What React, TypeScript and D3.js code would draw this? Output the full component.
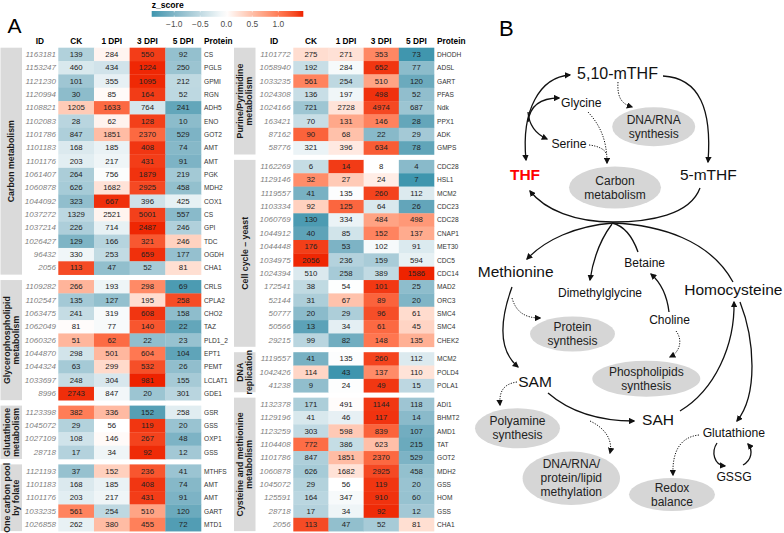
import * as d3 from "d3";

// ---- heatmap data ----
const cols = ["CK", "1 DPI", "3 DPI", "5 DPI"];

const carbonIds = ["1163181", "1153247", "1121230", "1120994", "1108821", "1102083", "1101786", "1101183", "1101176", "1061407", "1060878", "1044092", "1037272", "1037214", "1026427", "96432", "2056"];
const carbonProteins = ["CS", "PGLS", "GPMI", "RGN", "ADH5", "ENO", "GOT2", "AMT", "AMT", "PGK", "MDH2", "COX1", "CS", "GPI", "TDC", "OGDH", "CHA1"];
const carbonValues = [
  [139, 284, 550, 92], [460, 434, 1224, 250], [101, 355, 1095, 212], [30, 85, 164, 52],
  [1205, 1633, 764, 241], [28, 62, 128, 10], [847, 1851, 2370, 529], [168, 185, 408, 74],
  [203, 217, 431, 91], [264, 756, 1879, 219], [626, 1682, 2925, 458], [323, 667, 396, 425],
  [1329, 2521, 5001, 557], [226, 714, 2487, 246], [129, 166, 321, 246], [330, 253, 659, 177],
  [113, 47, 52, 81],
];

const glyIds = ["1109282", "1102547", "1063475", "1062049", "1060326", "1044870", "1044324", "1033697", "8996"];
const glyProteins = ["CRLS", "CPLA2", "CHO2", "TAZ", "PLD1_2", "EPT1", "PEMT", "LCLAT1", "GDE1"];
const glyValues = [
  [266, 193, 298, 69], [135, 127, 195, 258], [241, 319, 608, 158], [81, 77, 140, 22],
  [51, 62, 22, 23], [298, 501, 604, 104], [63, 299, 532, 26], [248, 304, 981, 155],
  [2743, 847, 20, 301],
];

const gshIds = ["1123398", "1045072", "1027109", "28718"];
const gshProteins = ["GSR", "GSS", "OXP1", "GSS"];
const gshValues = [[382, 336, 152, 258], [29, 56, 119, 20], [108, 146, 267, 48], [17, 34, 92, 12]];

const folateIds = ["1121193", "1101183", "1101176", "1033235", "1026858"];
const folateProteins = ["MTHFS", "AMT", "AMT", "GART", "MTD1"];
const folateValues = [[37, 152, 236, 41], [168, 185, 408, 74], [203, 217, 431, 91], [561, 254, 510, 120], [262, 380, 455, 72]];

const purIds = ["1101772", "1058940", "1033235", "1024308", "1024166", "163421", "87162", "58776"];
const purProteins = ["DHODH", "ADSL", "GART", "PFAS", "Ndk", "PPX1", "ADK", "GMPS"];
const purValues = [
  [275, 271, 353, 73], [192, 284, 652, 77], [561, 254, 510, 120], [136, 197, 498, 52],
  [721, 2728, 4974, 687], [70, 131, 146, 28], [90, 68, 22, 29], [321, 396, 634, 78],
];

const cellIds = ["1162269", "1129146", "1119557", "1103334", "1060769", "1044912", "1044448", "1034975", "1024394", "172541", "52144", "50777", "50566", "29215"];
const cellProteins = ["CDC28", "HSL1", "MCM2", "CDC23", "CDC28", "CNAP1", "MET30", "CDC5", "CDC14", "MAD2", "ORC3", "SMC4", "SMC4", "CHEK2"];
const cellValues = [
  [6, 14, 8, 4], [32, 27, 24, 7], [41, 135, 260, 112], [92, 125, 64, 26], [130, 334, 484, 498],
  [40, 85, 152, 137], [176, 53, 102, 91], [2056, 236, 159, 594], [510, 258, 389, 1586],
  [38, 54, 101, 25], [31, 67, 89, 20], [20, 29, 96, 61], [13, 34, 61, 45], [99, 82, 148, 135],
];

const dnaIds = ["1119557", "1042426", "41238"];
const dnaProteins = ["MCM2", "POLD4", "POLA1"];
const dnaValues = [[41, 135, 260, 112], [114, 43, 137, 110], [9, 24, 49, 15]];

const cysIds = ["1132378", "1129196", "1123259", "1104408", "1101786", "1060878", "1045072", "125591", "28718", "2056"];
const cysProteins = ["ADI1", "BHMT2", "AMD1", "TAT", "GOT2", "MDH2", "GSS", "HOM", "GSS", "CHA1"];
const cysValues = [
  [171, 491, 1144, 118], [41, 46, 117, 14], [303, 598, 839, 107], [772, 386, 623, 215],
  [847, 1851, 2370, 529], [626, 1682, 2925, 458], [29, 56, 119, 20], [164, 347, 910, 60],
  [17, 34, 92, 12], [113, 47, 52, 81],
];

const legendTicks = [-1, -0.5, 0, 0.5, 1];

type Group = { label: string[]; ids: string[]; proteins: string[]; values: number[][] };

const leftGroups: Group[] = [
  { label: ["Carbon metabolism"], ids: carbonIds, proteins: carbonProteins, values: carbonValues },
  { label: ["Glycerophospholipid", "metabolism"], ids: glyIds, proteins: glyProteins, values: glyValues },
  { label: ["Glutathione", "metabolism"], ids: gshIds, proteins: gshProteins, values: gshValues },
  { label: ["One carbon pool", "by folate"], ids: folateIds, proteins: folateProteins, values: folateValues },
];
const rightGroups: Group[] = [
  { label: ["Purine/Pyrimidine", "metabolism"], ids: purIds, proteins: purProteins, values: purValues },
  { label: ["Cell cycle \u2013 yeast"], ids: cellIds, proteins: cellProteins, values: cellValues },
  { label: ["DNA", "replication"], ids: dnaIds, proteins: dnaProteins, values: dnaValues },
  { label: ["Cysteine and methionine", "metabolism"], ids: cysIds, proteins: cysProteins, values: cysValues },
];

// row z-score
const zrow = (v: number[]) => {
  const m = d3.mean(v)!;
  const s = d3.deviation(v)!;
  return v.map((x) => (x - m) / s);
};

const allZ = [...leftGroups, ...rightGroups].flatMap((g) => g.values.flatMap(zrow));
const zMin = d3.min(allZ)!;
const zMax = d3.max(allZ)!;
const zAbs = Math.max(-zMin, zMax);
const color = d3
  .scaleLinear<string>()
  .domain([-zAbs, 0, zAbs])
  .range(["#3592ab", "#ffffff", "#ee2200"])
  .interpolate(d3.interpolateLab);

const ROW_H = 13.35;
const GAP = 5.4;
const TOP = 47.7;
const FONT = "'Liberation Sans', Arial, sans-serif";

function Heatmap({ groups, stripX, idRight, x0, x1, protX }: { groups: Group[]; stripX: number; idRight: number; x0: number; x1: number; protX: number }) {
  const x = d3.scaleBand().domain(cols).range([x0, x1]);
  let yy = TOP;
  const tops = groups.map((g) => {
    const t = yy;
    yy += g.values.length * ROW_H + GAP;
    return t;
  });
  return (
    <g>
      <text x={(stripX + 22 + x0) / 2 - 0.5} y={44.3} textAnchor="middle" fontWeight="bold" fontSize={8.3}>ID</text>
      {cols.map((c) => (
        <text key={c} x={x(c)! + x.bandwidth() / 2} y={44.3} textAnchor="middle" fontWeight="bold" fontSize={8.3}>{c}</text>
      ))}
      <text x={protX} y={44.3} fontWeight="bold" fontSize={8.3}>Protein</text>
      {groups.map((g, gi) => {
        const y = d3.scaleBand().domain(d3.range(g.values.length).map(String)).range([tops[gi], tops[gi] + g.values.length * ROW_H]);
        const h = g.values.length * ROW_H;
        const cy = tops[gi] + h / 2;
        const cx = stripX + 10.75;
        const n = g.label.length;
        return (
          <g key={gi}>
            <rect x={stripX} y={tops[gi]} width={21.5} height={h} fill="#dadada" />
            <text transform={`translate(${cx},${cy}) rotate(-90)`} textAnchor="middle" fontWeight="bold" fontSize={8.8} fill="#1a1a1a">
              {g.label.map((l, li) => (
                <tspan key={li} x={0} y={(li - (n - 1) / 2) * 8.8} dominantBaseline="central">{l}</tspan>
              ))}
            </text>
            {g.values.map((row, ri) => {
              const z = zrow(row);
              const ry = y(String(ri))!;
              return (
                <g key={ri}>
                  <text x={idRight} y={ry + ROW_H / 2} dominantBaseline="central" textAnchor="end" fontStyle="italic" fontSize={8} fill="#7f7f7f">{g.ids[ri]}</text>
                  {row.map((v, ci) => (
                    <g key={ci}>
                      <rect x={x(cols[ci])!} y={ry} width={x.bandwidth() + 0.3} height={ROW_H + 0.3} fill={color(z[ci])} />
                      <text x={x(cols[ci])! + x.bandwidth() / 2} y={ry + ROW_H / 2} dominantBaseline="central" textAnchor="middle" fontSize={7.8} fill="#222">{v}</text>
                    </g>
                  ))}
                  <text x={protX} y={ry + ROW_H / 2} dominantBaseline="central" fontSize={6.6} fill="#333">{g.proteins[ri]}</text>
                </g>
              );
            })}
          </g>
        );
      })}
    </g>
  );
}

function Legend() {
  const lx = d3.scaleLinear().domain([zMin, zMax]).range([151.7, 303.3]);
  const stops = d3.range(0, 1.0001, 0.05).map((t) => ({ t, c: color(zMin + t * (zMax - zMin)) }));
  return (
    <g>
      <defs>
        <linearGradient id="zgrad" x1="0" x2="1" y1="0" y2="0">
          {stops.map((s, i) => (
            <stop key={i} offset={s.t} stopColor={s.c} />
          ))}
        </linearGradient>
      </defs>
      <text x={151.7} y={7.6} fontWeight="bold" fontSize={8.6}>z_score</text>
      <rect x={151.7} y={11} width={lx(zMax) - lx(zMin)} height={5.8} fill="url(#zgrad)" />
      {legendTicks.map((t) => (
        <g key={t}>
          <line x1={lx(t)} x2={lx(t)} y1={11} y2={12.3} stroke="#fff" strokeWidth={0.6} />
          <line x1={lx(t)} x2={lx(t)} y1={15.5} y2={16.8} stroke="#fff" strokeWidth={0.6} />
          <text x={lx(t)} y={27} textAnchor="middle" fontSize={8.4} fill="#4d4d4d">{d3.format(".1f")(t).replace("-", "\u2212")}</text>
        </g>
      ))}
    </g>
  );
}

// ---- panel B layout ----
const ovals = [
  { cx: 653.7, cy: 126.7, rx: 41.5, ry: 19.5, lines: ["DNA/RNA", "synthesis"] },
  { cx: 615, cy: 187.5, rx: 46, ry: 21, lines: ["Carbon", "metabolism"] },
  { cx: 572.5, cy: 334, rx: 42.5, ry: 17.5, lines: ["Protein", "synthesis"] },
  { cx: 646.3, cy: 378.7, rx: 54, ry: 18, lines: ["Phospholipids", "synthesis"] },
  { cx: 517.5, cy: 428.3, rx: 42.5, ry: 20, lines: ["Polyamine", "synthesis"] },
  { cx: 571.3, cy: 478.3, rx: 48.7, ry: 26.7, lines: ["DNA/RNA/", "protein/lipid", "methylation"] },
  { cx: 672, cy: 494.5, rx: 43, ry: 16.5, lines: ["Redox", "balance"] },
];

const labels = [
  { t: "5,10-mTHF", x: 617.5, y: 79, s: 16 },
  { t: "Glycine", x: 581.3, y: 106.5, s: 12.2 },
  { t: "Serine", x: 569, y: 148, s: 12.2 },
  { t: "THF", x: 525, y: 180, s: 15.5, bold: true, fill: "#ff0000" },
  { t: "5-mTHF", x: 708.3, y: 180, s: 15.5 },
  { t: "Methionine", x: 515.7, y: 277.3, s: 15.5 },
  { t: "Dimethylglycine", x: 600, y: 296.5, s: 12 },
  { t: "Betaine", x: 644.7, y: 267, s: 12 },
  { t: "Homocysteine", x: 733.3, y: 295, s: 15.5 },
  { t: "Choline", x: 669.5, y: 324, s: 12 },
  { t: "SAM", x: 535, y: 386.7, s: 15.5 },
  { t: "SAH", x: 658, y: 425.3, s: 15.5 },
  { t: "Glutathione", x: 733.8, y: 436.7, s: 12.2 },
  { t: "GSSG", x: 734, y: 480.7, s: 12.2 },
];

type Edge = { p: number[][]; dotted?: boolean; end?: boolean; start?: boolean };
// each edge: start point then cubic segments (c1, c2, end)
const edges: Edge[] = [
  { p: [[526, 160], [521, 110], [540, 77], [570, 75]], end: true, start: true },
  { p: [[528, 122], [530, 104], [542, 98], [559, 98]], end: true },
  { p: [[528, 112], [529, 125], [536, 134], [547, 139]], end: true },
  { p: [[588, 112], [600, 125], [607, 140], [607, 163]], end: true, dotted: true },
  { p: [[589, 145], [598, 146], [604, 149], [606, 153]], dotted: true },
  { p: [[618, 82], [617, 98], [622, 104], [632, 107]], end: true, dotted: true },
  { p: [[663, 76], [700, 78], [712, 110], [708, 162]], end: true },
  { p: [[700, 188], [690, 215], [650, 222], [613, 222], [575, 222], [545, 210], [530, 191]], end: true },
  { p: [[613, 223], [575, 226], [545, 240], [527, 259]], end: true },
  { p: [[612, 224], [600, 240], [593, 260], [590, 280]], end: true },
  { p: [[638, 252], [633, 238], [625, 226], [612, 223]] },
  { p: [[733, 282], [710, 240], [660, 225], [613, 223]] },
  { p: [[669, 312], [667, 295], [660, 282], [651, 274]], end: true },
  { p: [[676, 331], [683, 340], [680, 352], [670, 357]], end: true, dotted: true },
  { p: [[512, 287], [500, 320], [498, 350], [518, 367]], end: true },
  { p: [[512, 298], [516, 312], [525, 318], [540, 318]], end: true, dotted: true },
  { p: [[517, 382], [503, 384], [499, 392], [500, 405]], end: true, dotted: true },
  { p: [[548, 393], [570, 412], [600, 421], [634, 421]], end: true },
  { p: [[590, 421], [605, 428], [613, 440], [610, 453]], end: true, dotted: true },
  { p: [[680, 411], [715, 390], [735, 345], [734, 302]], end: true },
  { p: [[740, 302], [755, 340], [758, 395], [737, 421]], end: true },
  { p: [[699, 435], [680, 437], [672, 452], [673, 475]], end: true, dotted: true },
  { p: [[717, 443], [711, 452], [714, 465], [725, 466]], end: true },
  { p: [[743, 465], [752, 460], [753, 450], [748, 444]], end: true },
];

function edgePath(p: number[][]) {
  const path = d3.path();
  path.moveTo(p[0][0], p[0][1]);
  for (let i = 1; i + 2 < p.length; i += 3) {
    path.bezierCurveTo(p[i][0], p[i][1], p[i + 1][0], p[i + 1][1], p[i + 2][0], p[i + 2][1]);
  }
  return path.toString();
}

function Pathway() {
  return (
    <g>
      <defs>
        <marker id="ah" viewBox="0 0 10 10" refX={8} refY={5} markerWidth={5} markerHeight={5} orient="auto-start-reverse" markerUnits="strokeWidth">
          <path d="M0,0 L10,5 L0,10 z" fill="#111" />
        </marker>
        <marker id="ahs" viewBox="0 0 10 10" refX={8} refY={5} markerWidth={6.5} markerHeight={6.5} orient="auto-start-reverse" markerUnits="strokeWidth">
          <path d="M0,0 L10,5 L0,10 z" fill="#111" />
        </marker>
      </defs>
      <text x={499} y={35.5} fontSize={22}>B</text>
      {ovals.map((o, i) => (
        <g key={i}>
          <ellipse cx={o.cx} cy={o.cy} rx={o.rx} ry={o.ry} fill="#d6d6d6" />
          <text textAnchor="middle" fontSize={12} fill="#222">
            {o.lines.map((l, li) => (
              <tspan key={li} x={o.cx} y={o.cy + (li - (o.lines.length - 1) / 2) * 14} dominantBaseline="central">{l}</tspan>
            ))}
          </text>
        </g>
      ))}
      {edges.map((e, i) => (
        <path
          key={i}
          d={edgePath(e.p)}
          fill="none"
          stroke="#111"
          strokeWidth={e.dotted ? 1 : 1.3}
          strokeDasharray={e.dotted ? "1.2 1.4" : undefined}
          markerEnd={e.end ? `url(#${e.dotted ? "ahs" : "ah"})` : undefined}
          markerStart={e.start ? "url(#ah)" : undefined}
        />
      ))}
      {labels.map((l) => (
        <text key={l.t} x={l.x} y={l.y} textAnchor="middle" fontSize={l.s} fontWeight={l.bold ? "bold" : "normal"} fill={l.fill ?? "#111"}>{l.t}</text>
      ))}
    </g>
  );
}

export default function App() {
  return (
    <svg width={784} height={533} style={{ position: "absolute", left: 0, top: 0, background: "#fff" }} fontFamily={FONT}>
      <rect width={784} height={533} fill="#fff" />
      <text x={7.5} y={33} fontSize={21}>A</text>
      <Legend />
      <Heatmap groups={leftGroups} stripX={0.5} idRight={56} x0={58.3} x1={201} protX={204} />
      <Heatmap groups={rightGroups} stripX={234} idRight={290.7} x0={293.3} x1={434} protX={437} />
      <Pathway />
    </svg>
  );
}
